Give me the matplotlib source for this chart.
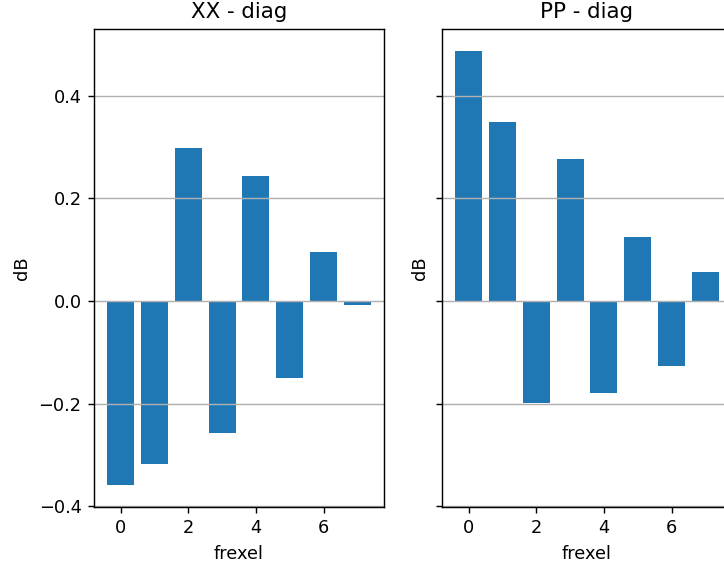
import numpy as np
import matplotlib
matplotlib.use("Agg")
import matplotlib.pyplot as plt

# frexel index and per-frexel diagonal values (dB)
frexel = np.arange(8)
xx_diag = [-0.359, -0.318, 0.299, -0.258, 0.244, -0.150, 0.096, -0.007]
pp_diag = [0.488, 0.349, -0.199, 0.277, -0.180, 0.125, -0.127, 0.056]

dpi = 128
fig = plt.figure(figsize=(724 / dpi, 565 / dpi), dpi=dpi)
# the second panel runs off the right edge, as in the original crop
ax1 = fig.add_axes([0.1298, 0.1027, 0.4006, 0.846])
ax2 = fig.add_axes([0.6105, 0.1027, 0.4006, 0.846], sharey=ax1)

for ax, vals, name in [(ax1, xx_diag, "XX"), (ax2, pp_diag, "PP")]:
    ax.bar(frexel, vals, color="#1f77b4")
    ax.set_title(f"{name} - diag")
    ax.set_xlabel("frexel")
    ax.set_ylabel("dB")
    ax.grid(True, axis="y")

ax2.tick_params(labelleft=False)

fig.savefig("out.png", dpi=dpi)
